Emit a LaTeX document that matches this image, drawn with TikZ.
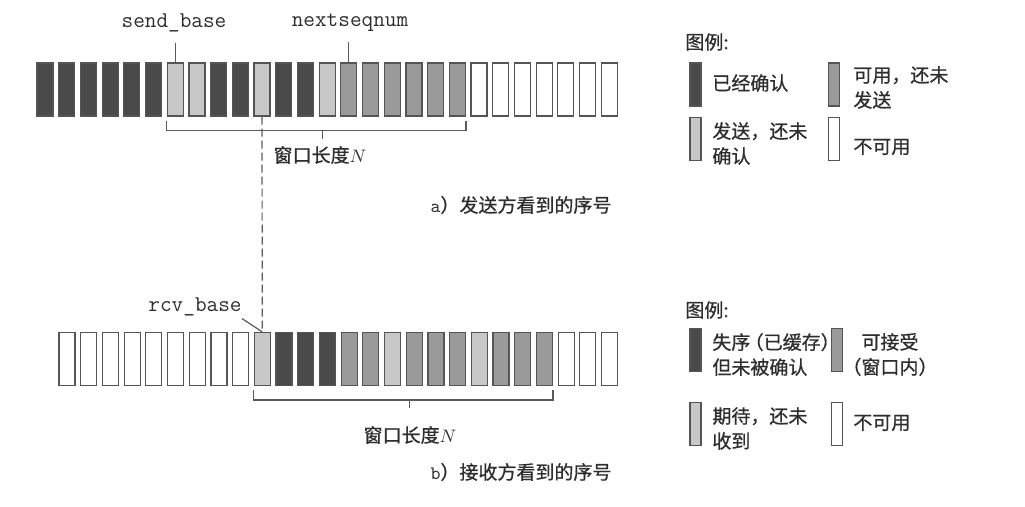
\documentclass[tikz,border=0pt]{standalone}
\usepackage{fontspec}
\setmainfont{Noto Sans CJK SC}[FakeBold=0.8]
\usetikzlibrary{calc}

\definecolor{cD}{HTML}{4A4A4A}
\definecolor{cM}{HTML}{9A9A9A}
\definecolor{cL}{HTML}{C8C8C8}
\definecolor{cW}{HTML}{FFFFFF}
\definecolor{edgegray}{HTML}{555555}
\definecolor{linegray}{HTML}{5A5A5A}
\definecolor{ink}{HTML}{2E2E2E}

\tikzset{
    cell/.style={draw=edgegray, line width=0.6pt, minimum width=8pt,
        minimum height=26.5pt, inner sep=0pt},
    key/.style={draw=edgegray, line width=0.6pt, minimum width=5.5pt,
        minimum height=21.5pt, inner sep=0pt},
    txt/.style={font=\fontsize{9.5}{12.5}\selectfont, text=ink, inner sep=1pt},
    keytxt/.style={txt, anchor=west, align=left},
    var/.style={font=\ttfamily\fontsize{11.3}{13}\selectfont, text=ink,
        inner sep=1pt},
    pointer/.style={draw=linegray, line width=0.6pt},
}

\begin{document}
\begin{tikzpicture}[x=0.5pt, y=-0.5pt]
    \useasboundingbox (0,0) rectangle (1025,507);

    % 发送方
    \foreach \c [count=\i] in {D,D,D,D,D,D,L,L,D,D,L,D,D,L,M,M,M,M,M,M,W,W,W,W,W,W,W}
        \node[cell, fill=c\c] (s\i) at ({45+(\i-1)*21.7}, 89.5) {};

    \node[var] (sendbase) at (174,23) {send\_base};
    \node[var] (nextseq) at (350,23) {nextseqnum};
    \draw[pointer] ([yshift=-4pt]sendbase.south -| s7.north) -- (s7.north);
    \draw[pointer] ([yshift=-4pt]nextseq.south -| s15.north) -- (s15.north);

    \draw[pointer] ([yshift=-2pt]s7.south west) |- ([yshift=-7pt]s20.south east)
        -- ([yshift=-2pt]s20.south east);
    \path ([yshift=-7pt]s7.south west) -- ([yshift=-7pt]s20.south east)
        coordinate[pos=0.52] (midA);
    \draw[pointer] (midA) -- ++(0,8);
    \node[txt] (winA) at (320,155) {窗口长度$N$};
    \node[txt] (capA) at (521,205) {{\ttfamily a}）发送方看到的序号};

    % 接收方
    \foreach \c [count=\i] in {W,W,W,W,W,W,W,W,W,L,D,D,D,M,M,L,M,M,M,L,M,M,M,W,W,W}
        \node[cell, fill=c\c] (r\i) at ({67+(\i-1)*21.7}, 359) {};

    \node[var] (rcvbase) at (195,307) {rcv\_base};
    \draw[pointer] ([xshift=-1pt]rcvbase.south east) -- (r10.north);
    \draw[pointer, dash pattern=on 4pt off 2pt] (s11.south) -- (r10.north);

    \draw[pointer] ([yshift=-2pt]r10.south west) |- ([yshift=-7pt]r23.south east)
        -- ([yshift=-2pt]r23.south east);
    \path ([yshift=-7pt]r10.south west) -- ([yshift=-7pt]r23.south east)
        coordinate[pos=0.52] (midB);
    \draw[pointer] (midB) -- ++(0,8);
    \node[txt] (winB) at (410,435) {窗口长度$N$};
    \node[txt] (capB) at (521,472) {{\ttfamily b}）接收方看到的序号};

    % 图例 a
    \node[keytxt] (legA) at (683,42) {图例:};
    \node[key, fill=cD] (kA1) at (695.5,84.5) {};
    \node[keytxt] (tA1) at (710,83) {已经确认};
    \node[key, fill=cM] (kA2) at (834,84.5) {};
    \node[keytxt] (tA2) at (851,87.5) {可用，还未\\发送};
    \node[key, fill=cL] (kA3) at (695.5,139) {};
    \node[keytxt] (tA3) at (710,143.5) {发送，还未\\确认};
    \node[key, fill=cW] (kA4) at (834,139) {};
    \node[keytxt] (tA4) at (851,147) {不可用};

    % 图例 b
    \node[keytxt] (legB) at (683,310) {图例:};
    \node[key, fill=cD] (kB1) at (695.5,350) {};
    \node[keytxt] (tB1) at (710,354.5) {失序\kern-.3em（已缓存）\\但未被确认};
    \node[key, fill=cM] (kB2) at (837,350) {};
    \node[txt, align=center] (tB2) at (890,354.5) {可接受\\\kern-.5em（窗口内）\kern-.5em};
    \node[key, fill=cL] (kB3) at (695.5,424) {};
    \node[keytxt] (tB3) at (710,428.5) {期待，还未\\收到};
    \node[key, fill=cW] (kB4) at (837,424) {};
    \node[keytxt] (tB4) at (851,423) {不可用};
\end{tikzpicture}
\end{document}
